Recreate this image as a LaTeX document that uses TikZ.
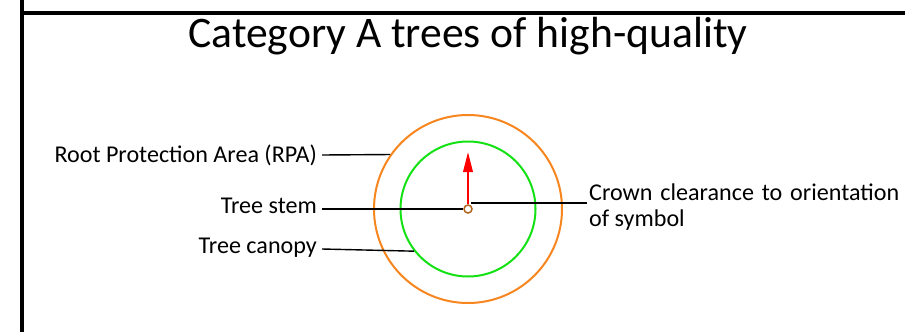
\documentclass[tikz,border=0pt]{standalone}
\usepackage{fontspec}
\setmainfont{Carlito}
\usetikzlibrary{arrows.meta}
\definecolor{rpaorange}{RGB}{247,134,30}
\definecolor{canopygreen}{RGB}{20,225,20}
\definecolor{stembrown}{RGB}{175,100,30}
\begin{document}
\begin{tikzpicture}[x=1pt,y=-1pt,
  frameline/.style={line width=3.5pt,black},
  leader/.style={line width=1.4pt,black},
  lbl/.style={inner sep=0pt,font=\fontsize{24.1}{26}\selectfont}]
\useasboundingbox (0,0) rectangle (905,332);
% frame
\coordinate (ftl) at (22,13);
\coordinate (fr) at (905,13);
\coordinate (fb) at (22,332);
\coordinate (ft) at (22,0);
\draw[frameline] (ft) -- (fb);
\draw[frameline] (ftl) -- (fr);
% title
\node[inner sep=0pt,anchor=base,font=\fontsize{43.6}{48}\selectfont] (title) at (468,47) {Category A trees of high-quality};
% symbol
\coordinate (c) at (468,209);
\node[circle,draw=rpaorange,line width=2pt,minimum size=188pt,inner sep=0pt] (rpac) at (c) {};
\node[circle,draw=canopygreen,line width=2pt,minimum size=135pt,inner sep=0pt] (canc) at (c) {};
\node[circle,draw=stembrown,line width=1.5pt,minimum size=8pt,inner sep=0pt] (stemc) at (c) {};
\coordinate (tip) at (468,152);
\draw[red,line width=2pt,-{Triangle[length=20pt,width=9.5pt]}] (stemc.north) -- (tip);
% labels
\node[lbl,anchor=base east] (rpa) at (317,162.7) {Root Protection Area (RPA)};
\node[lbl,anchor=base east] (stem) at (317,213.3) {Tree stem};
\node[lbl,anchor=base east] (canopy) at (317,253.3) {Tree canopy};
\node[lbl,anchor=base west,text width=310pt,align=justify] (crown) at (589,200.5) {Crown clearance to orientation of symbol};
% leaders
\coordinate (rpaL) at (322,155);
\coordinate (stemL) at (322,209);
\coordinate (canL) at (322,249);
\coordinate (crownR) at (587,203);
\draw[leader] (rpaL) -- (rpac.145);
\draw[leader] (stemL) -- (stemc.west);
\draw[leader] (canL) -- (canc.218);
\draw[leader] (stemc.north east |- crownR) -- (crownR);
\end{tikzpicture}
\end{document}
